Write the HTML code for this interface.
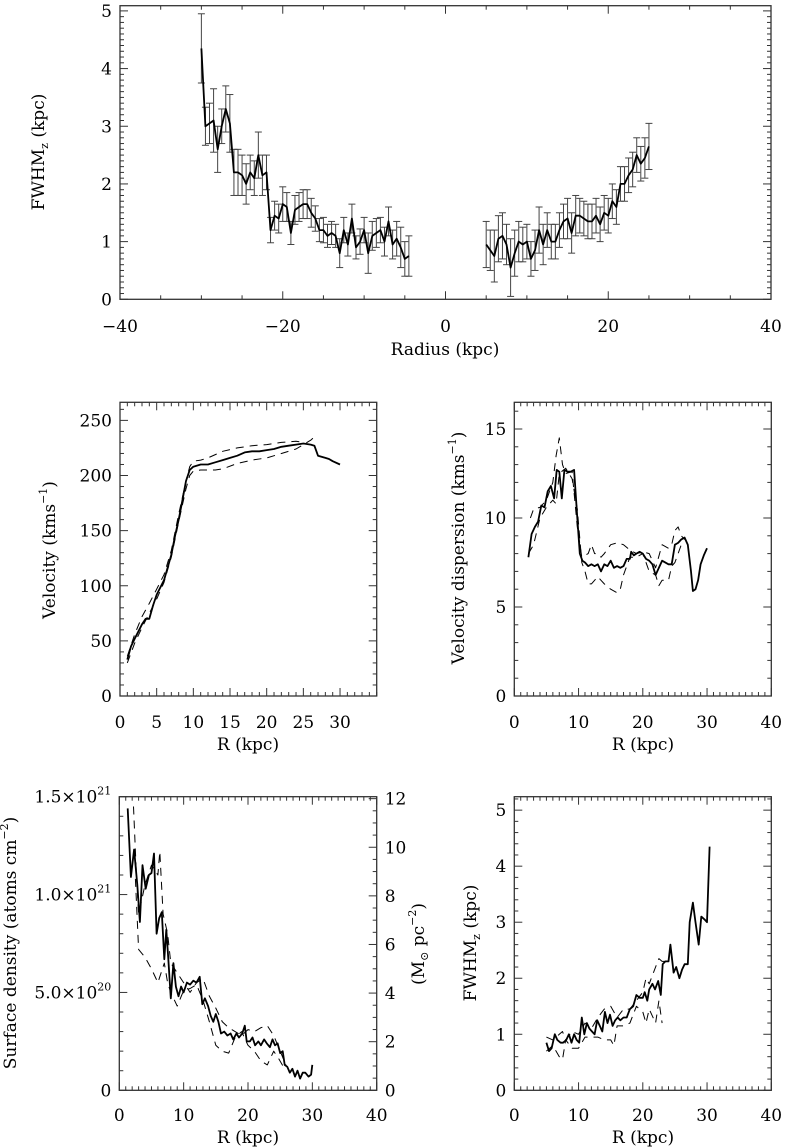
<!DOCTYPE html>
<html><head><meta charset="utf-8"><style>
html,body{margin:0;padding:0;background:#fff}
svg{display:block}
text{font-family:"DejaVu Serif","Liberation Serif",serif;fill:#000}
</style></head><body>
<svg id="fig" width="785" height="1148" viewBox="0 0 785 1148" xmlns="http://www.w3.org/2000/svg"></svg>
<script>
// ---- Top panel: FWHMz vs Radius ----
const topLeftR = [-30,-29.5,-29,-28.5,-28,-27.5,-27,-26.5,-26,-25.5,-25,-24.5,-24,-23.5,-23,-22.5,-22,-21.5,-21,-20.5,-20,-19.5,-19,-18.5,-18,-17.5,-17,-16.5,-16,-15.5,-15,-14.5,-14,-13.5,-13,-12.5,-12,-11.5,-11,-10.5,-10,-9.5,-9,-8.5,-8,-7.5,-7,-6.5,-6,-5.5,-5,-4.5];
const topLeftF = [4.35,3.0,3.05,3.1,2.6,3.0,3.3,3.05,2.2,2.2,2.15,2.0,2.2,2.1,2.5,2.15,2.2,1.2,1.45,1.4,1.65,1.6,1.15,1.55,1.6,1.65,1.65,1.5,1.4,1.2,1.2,1.1,1.15,1.1,0.8,1.2,0.95,1.4,0.9,1.0,1.2,0.8,1.1,1.15,1.2,1.0,1.35,0.95,1.05,0.9,0.7,0.75];
const topLeftE = [0.6,0.33,0.35,0.55,0.4,0.3,0.4,0.5,0.4,0.4,0.35,0.35,0.3,0.3,0.4,0.35,0.3,0.22,0.25,0.25,0.3,0.25,0.2,0.25,0.25,0.25,0.25,0.25,0.22,0.2,0.22,0.2,0.2,0.2,0.25,0.22,0.2,0.25,0.2,0.22,0.22,0.35,0.25,0.25,0.22,0.25,0.25,0.25,0.3,0.35,0.3,0.35];
const topRightR = [5,5.5,6,6.5,7,7.5,8,8.5,9,9.5,10,10.5,11,11.5,12,12.5,13,13.5,14,14.5,15,15.5,16,16.5,17,17.5,18,18.5,19,19.5,20,20.5,21,21.5,22,22.5,23,23.5,24,24.5,25];
const topRightF = [0.95,0.85,0.75,1.05,1.1,0.95,0.55,0.8,1.0,0.95,1.0,0.7,0.85,1.2,0.95,1.2,1.0,1.0,1.2,1.35,1.4,1.15,1.45,1.45,1.4,1.35,1.35,1.45,1.3,1.5,1.45,1.7,1.6,2.0,2.0,2.15,2.25,2.5,2.35,2.45,2.65];
const topRightE = [0.4,0.35,0.45,0.4,0.4,0.35,0.5,0.4,0.35,0.3,0.3,0.3,0.35,0.4,0.35,0.3,0.3,0.3,0.3,0.3,0.35,0.35,0.35,0.3,0.3,0.3,0.3,0.3,0.3,0.3,0.3,0.3,0.3,0.3,0.3,0.3,0.3,0.3,0.3,0.35,0.4];
const topXTicks = [-40,-20,0,20,40];
const topYTicks = [0,1,2,3,4,5];

// ---- Velocity ----
const velR = [1,1.5,2,3,3.5,4,4.5,5,6,7,7.5,8,8.5,9,9.5,10,11,12,13,14,15,16,17,18,19,20,21,22,23,24,25,26,26.5,27,28,28.5,29,30];
const velV = [33,45,52,65,70,70,82,92,105,128,145,160,177,195,205,208,210,210,212,214,216,218,221,222,222,223,224,226,227,228,229,228,227,218,216,215,213,210];
const velUpR = [1,2,3,4,5,6,7,8,9,9.5,10,11,12,14,16,18,20,22,24,25];
const velUpV = [36,56,72,84,97,110,132,165,195,208,213,214,216,222,225,227,228,230,231,230];
const velLoR = [1,2,3,4,5,6,7,8,9,9.5,10,11,12,13,14,16,18,20,22,24,26,26.5];
const velLoV = [30,48,62,75,88,103,126,158,188,200,204,205,205,205,206,211,214,216,220,224,232,235];
const velXTicks = [0,5,10,15,20,25,30];
const velYTicks = [0,50,100,150,200,250];

// ---- Velocity dispersion ----
const dispR = [2.2,2.7,3.2,3.7,4.2,4.7,5.2,5.7,6.2,6.6,7.0,7.4,7.8,8.3,8.8,9.3,9.8,10.2,10.6,11,11.5,12,12.5,13,13.5,14,14.5,15,15.5,16,16.5,17,17.5,18,18.2,18.6,19,19.5,20,20.5,21,21.5,22,22.5,23,24,24.5,25,25.5,26,26.5,27,27.5,27.8,28.2,28.6,29,29.5,30];
const dispS = [7.8,9.1,9.5,9.8,10.7,10.6,11.5,11.8,11.1,12.7,12.6,11.1,12.7,12.6,12.6,12.7,10.0,8.0,7.6,7.5,7.3,7.4,7.3,7.4,7.0,7.4,7.3,7.6,7.2,7.3,7.2,7.3,7.7,7.7,8.1,7.9,8.0,8.1,8.0,7.7,7.6,7.4,6.8,7.2,7.6,7.4,7.4,8.5,8.6,8.8,8.9,8.5,7.0,5.9,6.0,6.5,7.4,7.9,8.3];
const dispUpR = [2.5,3,4,5,6,6.5,7,7.5,8,9,9.8,10.5,11.5,12,12.5,13,13.5,14,15,16,17,18,19,20,21,22,23,24,24.5,25,25.5,26,26.5];
const dispUpS = [10.0,10.5,10.6,11.0,12.0,13.5,14.5,13.0,12.5,12.6,9.5,7.8,8.0,8.5,8.0,8.0,7.8,8.0,8.5,8.6,8.5,8.2,8.0,8.1,8.0,7.2,8.5,8.3,8.5,9.3,9.5,9.0,8.8];
const dispLoR = [2.2,3,4,5,6,6.5,7,8,9,9.8,10.5,11,11.5,12,12.5,13,13.5,14,15,16,16.5,17,18,19,20,21,22,22.5,23,24,24.5,25,26];
const dispLoS = [8.0,8.5,10.0,10.6,11.0,10.8,12.5,12.8,12.2,10.5,7.5,7.0,6.3,6.3,6.5,6.7,6.5,6.3,6.0,5.8,6.0,6.8,7.8,7.8,8.0,7.0,6.8,6.2,6.5,6.5,7.3,7.5,8.5];
const dispXTicks = [0,10,20,30,40];
const dispYTicks = [0,5,10,15];

// ---- Surface density (units of 1e20 atoms cm^-2) ----
const sdR = [1.3,1.8,2.3,2.8,3.2,3.6,4.1,4.6,5.0,5.4,5.8,6.2,6.6,7.0,7.3,7.6,8.0,8.4,8.8,9.2,9.6,10,10.5,11,11.5,12,12.5,12.9,13.3,13.8,14.2,14.6,15,15.4,15.8,16.3,16.8,17.3,17.7,18.2,18.6,19.1,19.5,19.8,20.3,20.7,21.1,21.6,22,22.5,22.9,23.4,23.8,24.2,24.6,25,25.4,25.7,26.1,26.5,26.9,27.3,27.7,28.1,28.5,28.9,29.4,29.8,30];
const sdS = [14.4,10.9,12.3,10.5,8.6,11.5,10.3,11.0,11.1,12.1,8.0,8.8,9.1,6.7,8.2,6.8,4.7,6.5,5.3,4.8,5.3,5.0,5.5,5.4,5.6,5.5,5.8,4.4,4.7,4.3,3.8,3.5,3.9,3.5,2.9,3.0,2.8,2.9,2.6,2.9,2.7,2.9,3.3,2.5,2.5,2.7,2.3,2.5,2.3,2.6,2.4,2.2,2.6,2.3,2.4,1.9,2.0,1.3,1.2,0.9,1.1,0.7,1.0,0.6,0.9,0.9,0.7,0.8,1.3];
const sdUpR = [2.2,2.6,3,4,5,6,6.3,6.8,7.5,8,9,10,11,12,13,14,15,16,17,18,19,20,21,22,23,24,25,26];
const sdUpS = [14.5,11.5,9.0,10.5,11.5,11.0,12.2,9.0,8.0,6.5,6.0,5.5,5.0,5.5,5.7,4.8,4.2,3.5,3.2,3.0,2.8,3.1,3.0,3.2,3.3,2.8,2.0,1.2];
const sdLoR = [2.5,3,4,5,6,7,7.5,8,9,10,11,12,13,14,15,16,17,18,19,20,21,22,23,24,24.8,25.5];
const sdLoS = [10.8,7.2,6.8,6.2,5.5,6.5,5.5,5.0,4.3,5.1,5.2,5.4,4.6,3.5,2.3,2.0,1.9,2.7,3.0,2.3,2.0,1.5,1.3,2.0,1.6,1.2];
const sdXTicks = [0,10,20,30,40];
const sdYTicks = [0,5,10,15];
const sdYLabels = ["0","5.0×10|20","1.0×10|21","1.5×10|21"];
const sdRightTicks = [0,2,4,6,8,10,12];

// ---- FWHMz vs R ----
const fwR = [5,5.4,5.8,6.3,6.7,7.2,7.6,8.1,8.5,8.9,9.3,9.7,10.1,10.5,10.9,11.3,11.7,12.1,12.5,12.9,13.3,13.7,14.1,14.5,14.9,15.3,15.7,16.1,16.5,17,17.5,18,18.5,19,19.5,20,20.3,20.7,21,21.5,21.9,22.4,22.8,23.1,23.5,24,24.3,24.8,25.2,25.7,26.1,26.5,27,27.3,27.8,28.2,28.7,29.1,29.6,30,30.4];
const fwF = [0.85,0.7,0.75,1.0,0.9,0.85,0.85,0.9,1.0,0.85,1.0,0.9,0.85,1.3,1.0,1.2,1.1,1.05,1.0,1.25,1.15,1.05,1.4,1.2,1.35,1.15,1.25,1.3,1.25,1.3,1.3,1.45,1.5,1.7,1.65,1.65,1.75,1.6,1.8,1.9,1.8,1.95,1.7,2.25,2.3,2.3,2.6,2.1,2.2,2.0,2.15,2.25,2.25,3.0,3.35,3.0,2.6,3.1,3.05,3.0,4.35];
const fwUpR = [5,6,7,7.5,8,9,10,11,12,13,14,15,16,17,18,19,20,20.5,21,22,22.5,23,23.4];
const fwUpF = [0.95,0.9,1.0,1.05,0.9,1.05,1.0,1.2,1.1,1.3,1.45,1.5,1.3,1.45,1.45,1.6,1.75,2.0,1.9,2.2,2.35,2.3,2.3];
const fwLoR = [5,6,7,7.5,8,9,10,11,12,13,14,15,15.5,16,17,18,19,20,20.5,21,22,22.5,23];
const fwLoF = [0.7,0.8,0.6,0.55,0.9,0.75,0.75,0.95,0.95,0.95,0.9,0.9,0.8,1.15,1.15,1.2,1.5,1.4,1.2,1.45,1.2,1.6,1.2];
const fwXTicks = [0,10,20,30,40];
const fwYTicks = [0,1,2,3,4,5];

const NS = "http://www.w3.org/2000/svg";
const svg = document.getElementById('fig');
const FS = 17;
function mk(tag, attrs, parent){
  const e = document.createElementNS(NS, tag);
  for (const k in attrs) e.setAttribute(k, attrs[k]);
  (parent||svg).appendChild(e);
  return e;
}
function scale(d0,d1,p0,p1){ return v => p0 + (v-d0)*(p1-p0)/(d1-d0); }

function makePanel(name, L, R, T, B, xmin, xmax, ymin, ymax){
  const g = mk('g', {});
  
  
  const fx = scale(xmin,xmax,L,R), fy = scale(ymin,ymax,B,T);
  const box = mk('rect', {x:L, y:T, width:R-L, height:B-T, fill:'none', stroke:'#333', 'stroke-width':1.3}, g);
  
  
  return {g, fx, fy, L, R, T, B};
}
function xTicks(p, majors, minorStep, xmin, xmax, labelY){
  const ax = mk('g', {}, p.g);
  
  
  for (let v = xmin; v <= xmax + 1e-9; v += minorStep){
    const x = p.fx(v);
    const isMaj = majors.some(m => Math.abs(m - v) < 1e-6);
    const len = isMaj ? 8 : 4;
    mk('line', {x1:x, x2:x, y1:p.B, y2:p.B-len, stroke:'#333', 'stroke-width':1}, ax);
    mk('line', {x1:x, x2:x, y1:p.T, y2:p.T+len, stroke:'#333', 'stroke-width':1}, ax);
  }
  majors.forEach(m => {
    const t = mk('text', {x:p.fx(m), y:labelY, 'font-size':FS, 'text-anchor':'middle'}, ax);
    t.textContent = (m < 0 ? '\u2212' + Math.abs(m) : String(m));
    
    
  });
}
function yTicks(p, majors, minorStep, ymin, ymax, labels, mirror){
  const ax = mk('g', {}, p.g);
  
  
  for (let v = ymin; v <= ymax + 1e-9; v += minorStep){
    const y = p.fy(v);
    const isMaj = majors.some(m => Math.abs(m - v) < 1e-6);
    const len = isMaj ? 8 : 4;
    mk('line', {x1:p.L, x2:p.L+len, y1:y, y2:y, stroke:'#333', 'stroke-width':1}, ax);
    if (mirror) mk('line', {x1:p.R, x2:p.R-len, y1:y, y2:y, stroke:'#333', 'stroke-width':1}, ax);
  }
  majors.forEach((m,i) => {
    const t = mk('text', {x:p.L-8, y:p.fy(m)+6, 'font-size':FS, 'text-anchor':'end'}, ax);
    const lab = labels ? labels[i] : String(m);
    if (lab.indexOf('|') >= 0){
      const parts = lab.split('|');
      t.appendChild(document.createTextNode(parts[0]));
      const s = mk('tspan', {'font-size':11, dy:-8}, t);
      s.textContent = parts[1];
    } else t.textContent = lab;
    
    
  });
}
function line(p, xs, ys, name, dashed){
  const d = xs.map((x,i) => (i?'L':'M') + p.fx(x).toFixed(1) + ',' + p.fy(ys[i]).toFixed(1)).join(' ');
  const e = mk('path', {d, fill:'none', stroke:'#000', 'stroke-width': dashed ? 1 : 1.8, 'stroke-dasharray': dashed ? '8,6' : 'none', 'stroke-linejoin':'round'}, p.g);
  
  
}
function errbars(p, xs, ys, es, name){
  const g = mk('g', {}, p.g);
  
  
  xs.forEach((x,i) => {
    const px = p.fx(x), y1 = p.fy(ys[i]-es[i]), y2 = p.fy(ys[i]+es[i]);
    mk('line', {x1:px, x2:px, y1, y2, stroke:'#444', 'stroke-width':1}, g);
    mk('line', {x1:px-3.5, x2:px+3.5, y1, y2:y1, stroke:'#444', 'stroke-width':1}, g);
    mk('line', {x1:px-3.5, x2:px+3.5, y1:y2, y2, stroke:'#444', 'stroke-width':1}, g);
  });
}
function label(text, x, y, rot, name, parts){
  const t = mk('text', {x, y, 'font-size':FS, 'text-anchor':'middle', transform: rot ? `rotate(-90 ${x} ${y})` : ''});
  if (parts){
    parts.forEach(pt => {
      const s = mk('tspan', pt.a || {}, t);
      s.textContent = pt.t;
    });
  } else t.textContent = text;
  
  
}

// Top panel
(function(){
  const p = makePanel('fwhm-radius-panel', 120, 771, 5.7, 299.3, -40, 40, 0, 5.09);
  xTicks(p, topXTicks, 5, -40, 40, 332);
  yTicks(p, topYTicks, 0.1, 0, 5.0, null, true);
  errbars(p, topLeftR, topLeftF, topLeftE, 'error-bars-negative-radius');
  errbars(p, topRightR, topRightF, topRightE, 'error-bars-positive-radius');
  line(p, topLeftR, topLeftF, 'fwhm-line-negative-radius', false);
  line(p, topRightR, topRightF, 'fwhm-line-positive-radius', false);
  label('Radius (kpc)', 445, 355, false, 'x-axis-title');
  label('', 44, 152, true, 'y-axis-title', [{t:'FWHM'},{t:'z',a:{'font-size':11,dy:4}},{t:' (kpc)',a:{dy:-4}}]);
})();

// Velocity panel
(function(){
  const p = makePanel('rotation-curve-panel', 120, 376.7, 402.3, 696, 0, 35, 0, 266.4);
  xTicks(p, velXTicks, 1, 0, 35, 728);
  yTicks(p, velYTicks, 10, 0, 260, null, true);
  line(p, velUpR, velUpV, 'velocity-dashed-upper', true);
  line(p, velLoR, velLoV, 'velocity-dashed-lower', true);
  line(p, velR, velV, 'velocity-line', false);
  label('R (kpc)', 248, 750, false, 'x-axis-title');
  label('', 55, 550, true, 'y-axis-title', [{t:'Velocity (kms'},{t:'\u22121',a:{'font-size':11,dy:-8}},{t:')',a:{dy:8}}]);
})();

// Dispersion panel
(function(){
  const p = makePanel('velocity-dispersion-panel', 514.3, 771.3, 402.3, 696, 0, 40, 0, 16.5);
  xTicks(p, dispXTicks, 1, 0, 40, 728);
  yTicks(p, dispYTicks, 1, 0, 16, null, true);
  line(p, dispUpR, dispUpS, 'dispersion-dashed-upper', true);
  line(p, dispLoR, dispLoS, 'dispersion-dashed-lower', true);
  line(p, dispR, dispS, 'dispersion-line', false);
  label('R (kpc)', 643, 750, false, 'x-axis-title');
  label('', 464, 548, true, 'y-axis-title', [{t:'Velocity dispersion (kms'},{t:'\u22121',a:{'font-size':11,dy:-8}},{t:')',a:{dy:8}}]);
})();

// Surface density panel
(function(){
  const p = makePanel('surface-density-panel', 119.3, 376.7, 796.7, 1090.3, 0, 40, 0, 15);
  xTicks(p, sdXTicks, 1, 0, 40, 1121);
  yTicks(p, sdYTicks, 1, 0, 15, sdYLabels, false);
  const fy2 = scale(0, 12.08, 1090.3, 796.7);
  const ax = mk('g', {}, p.g);
  
  
  for (let v = 0; v <= 12.01; v += 0.5){
    const y = fy2(v);
    const maj = Math.abs(v - Math.round(v/2)*2) < 1e-6;
    mk('line', {x1:p.R, x2:p.R-(maj?8:4), y1:y, y2:y, stroke:'#333', 'stroke-width':1}, ax);
  }
  sdRightTicks.forEach(v => {
    const t = mk('text', {x:p.R+8, y:fy2(v)+6, 'font-size':FS, 'text-anchor':'start'}, ax);
    t.textContent = String(v);
    
    
  });
  line(p, sdUpR, sdUpS, 'density-dashed-upper', true);
  line(p, sdLoR, sdLoS, 'density-dashed-lower', true);
  line(p, sdR, sdS, 'density-line', false);
  label('R (kpc)', 248, 1143, false, 'x-axis-title');
  label('', 16, 943, true, 'y-axis-title', [{t:'Surface density (atoms cm'},{t:'\u22122',a:{'font-size':11,dy:-8}},{t:')',a:{dy:8}}]);
  label('', 424, 944, true, 'right-y-axis-title', [{t:'(M'},{t:'\u2299',a:{'font-size':11,dy:4}},{t:' pc',a:{dy:-4}},{t:'\u22122',a:{'font-size':11,dy:-8}},{t:')',a:{dy:8}}]);
})();

// FWHMz vs R panel
(function(){
  const p = makePanel('fwhm-r-panel', 514.3, 771.3, 796.7, 1090.3, 0, 40, 0, 5.24);
  xTicks(p, fwXTicks, 1, 0, 40, 1121);
  yTicks(p, fwYTicks, 0.2, 0, 5.2, null, true);
  line(p, fwUpR, fwUpF, 'fwhm-dashed-upper', true);
  line(p, fwLoR, fwLoF, 'fwhm-dashed-lower', true);
  line(p, fwR, fwF, 'fwhm-line', false);
  label('R (kpc)', 643, 1143, false, 'x-axis-title');
  label('', 476, 943, true, 'y-axis-title', [{t:'FWHM'},{t:'z',a:{'font-size':11,dy:4}},{t:' (kpc)',a:{dy:-4}}]);
})();
</script>
</body></html>
